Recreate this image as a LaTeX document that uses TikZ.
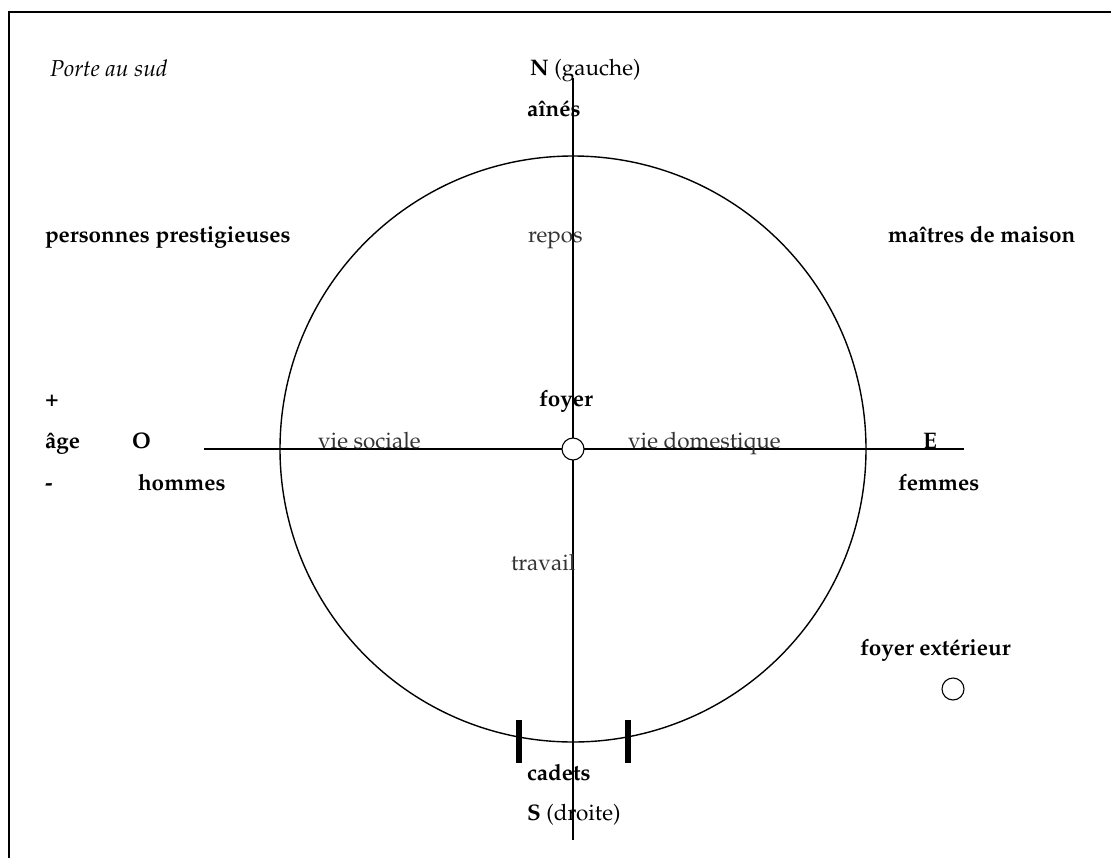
\documentclass[tikz,border=0pt]{standalone}
\usepackage[T1]{fontenc}
\usepackage{mathpazo}
\begin{document}
\begin{tikzpicture}[x=1pt,y=-1pt,
  lbl/.style={anchor=base west,inner sep=0pt,outer sep=0pt,font=\fontsize{22.5}{26}\selectfont},
  blbl/.style={lbl,font=\fontsize{22.5}{26}\selectfont\bfseries},
  glbl/.style={lbl,text=black!80},
  smallc/.style={circle,draw,line width=1.1pt,fill=white,minimum size=22pt,inner sep=0pt},
  axis/.style={line width=1.3pt},
  doorbar/.style={line width=6pt}]
\useasboundingbox (0,0) rectangle (1111,857);
% frame
\draw[line width=1.5pt] (9,880) -- (9,12) -- (1130,12);
% big circle
\node[circle,draw,line width=1.4pt,minimum size=586pt,inner sep=0pt] (big) at (573,449) {};
% axes
\coordinate (ntop) at (573,78);
\coordinate (sbot) at (573,840);
\coordinate (wend) at (204,449);
\coordinate (eend) at (964,449);
\draw[axis] (ntop) -- (sbot);
\draw[axis] (wend) -- (eend);
% door bars
\coordinate (d1a) at (519,720); \coordinate (d1b) at (519,763);
\coordinate (d2a) at (628,720); \coordinate (d2b) at (628,763);
\draw[doorbar] (d1a) -- (d1b);
\draw[doorbar] (d2a) -- (d2b);
% hearths
\node[smallc] (foyer) at (573,449) {};
\node[smallc] (foyerext) at (953,689) {};
% labels
\node[lbl,font=\fontsize{23}{27}\selectfont\itshape] (porte) at (50,76) {Porte au sud};
\node[lbl] (nord) at (530,75) {\textbf{N} (gauche)};
\node[blbl] (aines) at (527,116) {a\^{\i}n\'es};
\node[blbl] (prest) at (45,242) {personnes prestigieuses};
\node[glbl] (repos) at (528,242) {repos};
\node[blbl] (maitres) at (888,242) {ma\^{\i}tres de maison};
\node[blbl] (plus) at (45,406) {+};
\node[blbl] (foyerl) at (539,406) {foyer};
\node[blbl] (age) at (45,448) {\^age};
\node[blbl] (ouest) at (132,448) {O};
\node[glbl] (vsoc) at (318,448) {vie sociale};
\node[glbl] (vdom) at (628,448) {vie domestique};
\node[blbl] (est) at (923,448) {E};
\node[blbl] (moins) at (45,490) {-};
\node[blbl] (hommes) at (138,490) {hommes};
\node[blbl] (femmes) at (898,490) {femmes};
\node[glbl] (travail) at (511,570) {travail};
\node[blbl] (fext) at (860,655) {foyer ext\'erieur};
\node[blbl] (cadets) at (527,780) {cadets};
\node[lbl] (sud) at (527,820) {\textbf{S} (droite)};
\end{tikzpicture}
\end{document}
